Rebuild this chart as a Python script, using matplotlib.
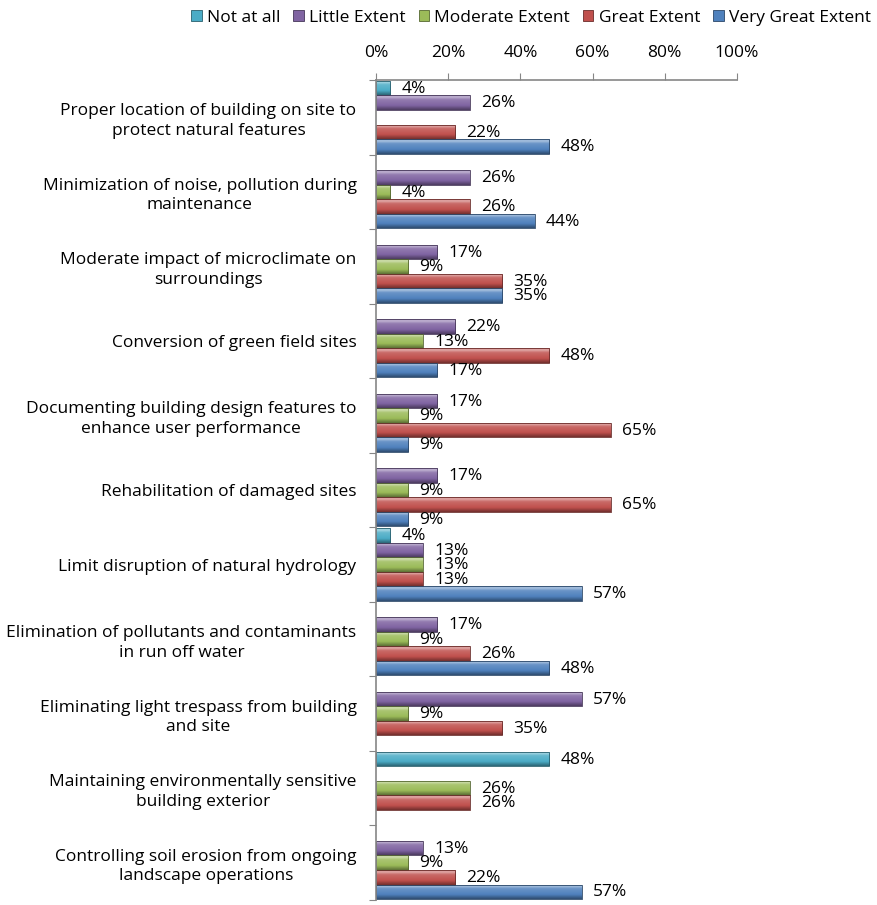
import matplotlib
matplotlib.use("Agg")
import matplotlib.pyplot as plt
import numpy as np
from matplotlib.colors import to_rgb
from matplotlib.patches import Patch

# survey items, top to bottom
categories = [
    "Proper location of building on site to\nprotect natural features",
    "Minimization of noise, pollution during\nmaintenance",
    "Moderate impact of microclimate on\nsurroundings",
    "Conversion of green field sites",
    "Documenting building design features to\nenhance user performance",
    "Rehabilitation of damaged sites",
    "Limit disruption of natural hydrology",
    "Elimination of pollutants and contaminants\nin run off water",
    "Eliminating light trespass from building\nand site",
    "Maintaining environmentally sensitive\nbuilding exterior",
    "Controlling soil erosion from ongoing\nlandscape operations",
]
seriesNames = ["Not at all", "Little Extent", "Moderate Extent", "Great Extent", "Very Great Extent"]

# percentages per response level
notAtAll = [4, 0, 0, 0, 0, 0, 4, 0, 0, 48, 0]
littleExtent = [26, 26, 17, 22, 17, 17, 13, 17, 57, 0, 13]
moderateExtent = [0, 4, 9, 13, 9, 9, 13, 9, 9, 26, 9]
greatExtent = [22, 26, 35, 48, 65, 65, 13, 26, 35, 26, 22]
veryGreatExtent = [48, 44, 35, 17, 9, 9, 57, 48, 0, 0, 57]

xTicks = [0, 20, 40, 60, 80, 100]
seriesColors = ["#4bacc6", "#8064a2", "#9bbb59", "#c0504d", "#4f81bd"]

plt.rcParams['font.family'] = ['Open Sans', 'DejaVu Sans']
fontSize = 12.5


def mix(c, other, t):
    c = np.array(to_rgb(c))
    o = np.array(to_rgb(other))
    return c * (1 - t) + o * t


#builds a vertical gradient giving the bars a bevelled look
def bevelGradient(color, n=40):
    stops = [0.0, 0.12, 0.3, 0.7, 1.0]
    cols = [mix(color, "white", 0.35), mix(color, "white", 0.5), mix(color, "white", 0.15),
            mix(color, "black", 0.0), mix(color, "black", 0.4)]
    cols = np.array(cols)
    pos = np.linspace(0, 1, n)
    grad = np.zeros((n, 1, 3))
    for k in range(3):
        grad[:, 0, k] = np.interp(pos, stops, cols[:, k])
    return grad


fig = plt.figure(figsize=(8.77, 9.05), dpi=100)
ax = fig.add_axes([376 / 877, 5 / 905, 361 / 877, 820 / 905])

allSeries = [notAtAll, littleExtent, moderateExtent, greatExtent, veryGreatExtent]
barHeight = 0.195
yBase = np.arange(len(categories))

for j, values in enumerate(allSeries):
    yPos = yBase + (j - 2) * barHeight
    edge = mix(seriesColors[j], "black", 0.45)
    bars = ax.barh(yPos, values, height=barHeight, color="none",
                   edgecolor=edge, linewidth=0.6, zorder=3)
    grad = bevelGradient(seriesColors[j])
    for bar, v, y in zip(bars, values, yPos):
        if v <= 0:
            bar.set_linewidth(0)
            continue
        x0, y0 = bar.get_x(), bar.get_y()
        w, h = bar.get_width(), bar.get_height()
        im = ax.imshow(grad, extent=[x0, x0 + w, y0 + h, y0], aspect='auto',
                       interpolation='bilinear', zorder=2)
        im.set_clip_path(bar)
        ax.annotate(f"{v}%", xy=(v, y), xytext=(8, -0.5), textcoords='offset points',
                    va='center', ha='left', fontsize=fontSize, color='black')

ax.set_xlim(0, 100)
ax.set_ylim(len(categories) - 0.5, -0.5)

# axis on top, category boundaries as ticks
ax.xaxis.tick_top()
ax.set_xticks(xTicks)
ax.set_xticklabels([f"{t}%" for t in xTicks], fontsize=fontSize)
ax.tick_params(axis='x', direction='out', length=5, color='#868686', pad=9)

ax.set_yticks(np.arange(len(categories) + 1) - 0.5)
ax.set_yticklabels([])
ax.set_yticks(yBase, minor=True)
ax.set_yticklabels(categories, minor=True, fontsize=fontSize)
ax.tick_params(axis='y', which='major', direction='out', length=5, color='#868686')
ax.tick_params(axis='y', which='minor', length=0, pad=14)
for lbl in ax.get_yticklabels(minor=True):
    lbl.set_multialignment('center')
    lbl.set_linespacing(1.3)

for side in ['right', 'bottom']:
    ax.spines[side].set_visible(False)
for side in ['left', 'top']:
    ax.spines[side].set_color('#868686')
    ax.spines[side].set_linewidth(1.2)
    ax.spines[side].set_zorder(4)

handles = [Patch(facecolor=c, edgecolor=mix(c, "black", 0.45), linewidth=0.6) for c in seriesColors]
fig.legend(handles, seriesNames, loc='center', bbox_to_anchor=(531 / 877, 1 - 18 / 905), ncol=5,
           frameon=False, fontsize=fontSize, handlelength=0.6, handleheight=0.6,
           handletextpad=0.3, columnspacing=0.75, borderaxespad=0)

fig.savefig("out.png", dpi=100)
